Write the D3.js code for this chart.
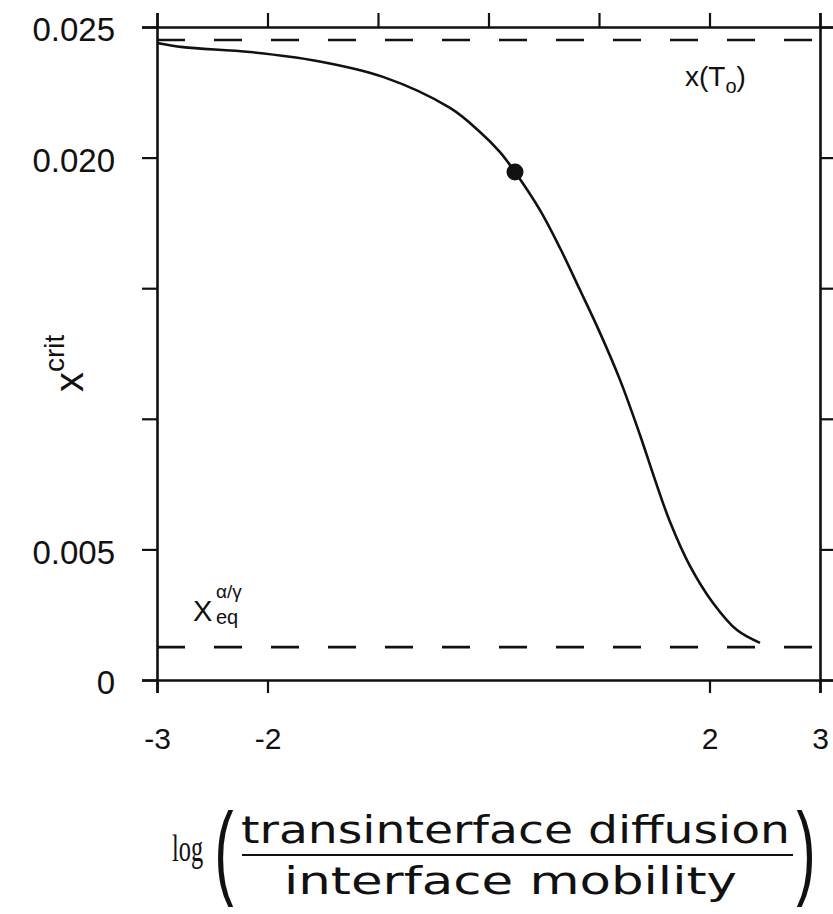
<!DOCTYPE html>
<html>
<head>
<meta charset="utf-8">
<script src="https://cdn.jsdelivr.net/npm/d3@7"></script>
<style>
  body { margin: 0; background: #fff; }
  svg { display: block; }
  .tick text { font-family: "Liberation Sans", Arial, sans-serif; fill: #111; }
</style>
</head>
<body>
<div id="chart"></div>
<script>
// donnees
const logRatio = [-3, -2.765, -2.158, -1.552, -0.955, -0.348, -0.077, 0.104, 0.240, 0.466, 0.647, 0.828, 1.009, 1.190, 1.371, 1.507, 1.643, 1.824, 2.032, 2.249, 2.457];
const xCrit = [0.02439, 0.02423, 0.02404, 0.02370, 0.02309, 0.02190, 0.02098, 0.02021, 0.01945, 0.01799, 0.01654, 0.01493, 0.01329, 0.01149, 0.00938, 0.00766, 0.00605, 0.00436, 0.00295, 0.00191, 0.00142];

const markedPoint = [0.24, 0.01945];
const xT0 = 0.0245;   // x(To)
const xEq = 0.00126;  // x eq alpha/gamma

const xTicksTop = [-3, -2, -1, 0, 1, 2, 3];
const xTicksBottom = [-3, -2, 2, 3];
const xTickLabels = ["-3", "-2", "2", "3"];
const yTicks = [0, 0.005, 0.010, 0.015, 0.020, 0.025];
const yTickLabels = ["0", "0.005", "", "", "0.020", "0.025"];

const width = 833, height = 914;

const svg = d3.select("#chart")
  .append("svg")
  .attr("width", width)
  .attr("height", height);

const x = d3.scaleLinear().domain([-3, 3]).range([157, 820]);
const y = d3.scaleLinear().domain([0, 0.025]).range([680, 27]);

// Axes (cadre avec graduations vers l'exterieur)
function styleAxis(g) {
  g.selectAll(".domain").attr("stroke", "#111").attr("stroke-width", 2.6);
  g.selectAll(".tick line").attr("stroke", "#111").attr("stroke-width", 2.2);
}

svg.append("g")
  .attr("transform", `translate(0, ${y(0)})`)
  .call(d3.axisBottom(x).tickValues(xTicksBottom).tickSizeOuter(0).tickSize(13).tickPadding(35)
    .tickFormat((d, i) => xTickLabels[i]))
  .call(styleAxis)
  .selectAll("text").attr("font-size", 30);

svg.append("g")
  .attr("transform", `translate(0, ${y(0.025)})`)
  .call(d3.axisTop(x).tickValues(xTicksTop).tickSizeOuter(0).tickSize(14).tickFormat(""))
  .call(styleAxis);

svg.append("g")
  .attr("transform", `translate(${x(-3)}, 0)`)
  .call(d3.axisLeft(y).tickValues(yTicks).tickSizeOuter(0).tickSize(15).tickPadding(27)
    .tickFormat((d, i) => yTickLabels[i]))
  .call(styleAxis)
  .selectAll("text").attr("font-size", 33).attr("dy", "0.42em");

svg.append("g")
  .attr("transform", `translate(${x(3)}, 0)`)
  .call(d3.axisRight(y).tickValues(yTicks).tickSizeOuter(0).tickSize(13).tickFormat(""))
  .call(styleAxis);

// lignes pointillees
[xT0, xEq].forEach(v => {
  svg.append("line")
    .attr("x1", x(-3)).attr("x2", x(3))
    .attr("y1", y(v)).attr("y2", y(v))
    .attr("stroke", "#111")
    .attr("stroke-width", 2.6)
    .attr("stroke-dasharray", "28,29");
});

// courbe
const line = d3.line()
  .x(d => x(d[0]))
  .y(d => y(d[1]))
  .curve(d3.curveCatmullRom.alpha(0.5));

svg.append("path")
  .datum(logRatio.map((v, i) => [v, xCrit[i]]))
  .attr("d", line)
  .attr("fill", "none")
  .attr("stroke", "#111")
  .attr("stroke-width", 2.6);

svg.append("circle")
  .attr("cx", x(markedPoint[0]))
  .attr("cy", y(markedPoint[1]))
  .attr("r", 8.5)
  .attr("fill", "#111");

// textes
const sans = "'Liberation Sans', Arial, sans-serif";

const t0 = svg.append("text")
  .attr("x", 685).attr("y", 86)
  .attr("font-family", sans).attr("font-size", 28).attr("fill", "#111");
t0.append("tspan").text("x(T");
t0.append("tspan").attr("font-size", 20).attr("dy", 7).text("o");
t0.append("tspan").attr("dy", -7).text(")");

svg.append("text")
  .attr("x", 193).attr("y", 621)
  .attr("font-family", sans).attr("font-size", 29).attr("fill", "#111")
  .text("X");
svg.append("text")
  .attr("x", 216).attr("y", 598)
  .attr("font-family", sans).attr("font-size", 19).attr("fill", "#111")
  .text("α/γ");
svg.append("text")
  .attr("x", 216).attr("y", 624)
  .attr("font-family", sans).attr("font-size", 20).attr("fill", "#111")
  .text("eq");

const yl = svg.append("text")
  .attr("transform", "translate(83, 392) rotate(-90)")
  .attr("font-family", sans).attr("fill", "#111");
yl.append("tspan").attr("font-size", 40).text("x");
yl.append("tspan").attr("font-size", 28).attr("dy", -19).text("crit");

// titre de l'axe x
svg.append("text")
  .attr("transform", "translate(172, 861) scale(0.64, 1)")
  .attr("font-family", "'Liberation Serif', 'Times New Roman', serif")
  .attr("font-size", 38).attr("fill", "#111")
  .text("log");

svg.append("text")
  .attr("transform", "translate(224, 885) scale(0.55, 1)")
  .attr("text-anchor", "middle")
  .attr("font-family", "'Liberation Sans', sans-serif")
  .attr("font-size", 104).attr("fill", "#111")
  .text("(");

svg.append("text")
  .attr("transform", "translate(806, 885) scale(0.55, 1)")
  .attr("text-anchor", "middle")
  .attr("font-family", "'Liberation Sans', sans-serif")
  .attr("font-size", 104).attr("fill", "#111")
  .text(")");

svg.append("text")
  .attr("x", 241).attr("y", 843)
  .attr("font-family", "'DejaVu Sans', sans-serif")
  .attr("font-size", 37).attr("fill", "#111")
  .attr("textLength", 549).attr("lengthAdjust", "spacingAndGlyphs")
  .text("transinterface diffusion");

svg.append("line")
  .attr("x1", 242).attr("x2", 793)
  .attr("y1", 855).attr("y2", 855)
  .attr("stroke", "#111").attr("stroke-width", 2);

svg.append("text")
  .attr("x", 284).attr("y", 894)
  .attr("font-family", "'DejaVu Sans', sans-serif")
  .attr("font-size", 37).attr("fill", "#111")
  .attr("textLength", 453).attr("lengthAdjust", "spacingAndGlyphs")
  .text("interface  mobility");
</script>
</body>
</html>
